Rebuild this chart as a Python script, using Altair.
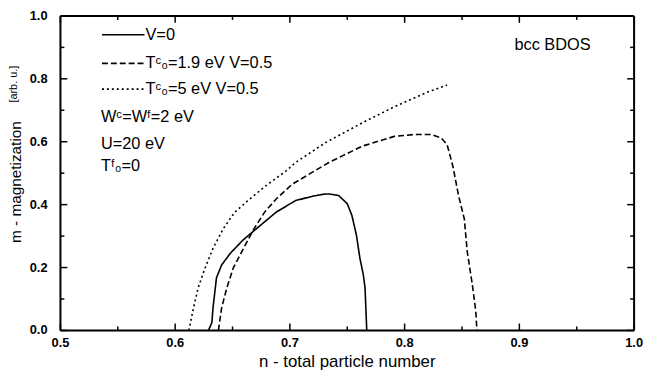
import altair as alt
import pandas as pd

# ---- data ----
n_v0 = [0.629, 0.632, 0.633, 0.635, 0.636, 0.6405, 0.648, 0.659, 0.671, 0.688, 0.705, 0.72, 0.731, 0.734,
        0.7425, 0.750, 0.754, 0.758, 0.761, 0.764, 0.7655, 0.767]
m_v0 = [0.0, 0.025, 0.072, 0.135, 0.167, 0.208, 0.245, 0.287, 0.324, 0.376, 0.413, 0.427, 0.434, 0.434,
        0.429, 0.403, 0.366, 0.303, 0.230, 0.177, 0.135, 0.0]

n_t19 = [0.6377, 0.6405, 0.645, 0.6506, 0.658, 0.668, 0.678, 0.688, 0.702, 0.734, 0.763, 0.791, 0.8086,
         0.823, 0.832, 0.837, 0.842, 0.847, 0.852, 0.8546, 0.859, 0.862, 0.863]
m_t19 = [0.0, 0.072, 0.135, 0.198, 0.25, 0.319, 0.376, 0.418, 0.465, 0.534, 0.586, 0.617, 0.623,
         0.623, 0.612, 0.591, 0.523, 0.429, 0.355, 0.25, 0.146, 0.062, 0.0]

n_t5 = [0.612, 0.616, 0.620, 0.626, 0.633, 0.642, 0.652, 0.665, 0.679, 0.6966, 0.705, 0.731, 0.763,
        0.791, 0.820, 0.837]
m_t5 = [0.0, 0.072, 0.135, 0.198, 0.261, 0.324, 0.376, 0.418, 0.46, 0.507, 0.534, 0.597, 0.66,
        0.711, 0.758, 0.780]

series_names = ["V=0", "Tᶜ₀=1.9 eV V=0.5", "Tᶜ₀=5 eV V=0.5"]
dashes = [[1, 0], [6, 3], [2, 3]]
notes = ["Wᶜ=Wᶠ=2 eV", "U=20 eV", "Tᶠ₀=0"]
corner_label = "bcc BDOS"
x_title = "n - total particle number"
y_title = "m - magnetization"
y_unit = "[arb. u.]"
x_major = [0.5, 0.6, 0.7, 0.8, 0.9, 1.0]
x_minor = [0.55, 0.65, 0.75, 0.85, 0.95]
y_major = [0.0, 0.2, 0.4, 0.6, 0.8, 1.0]
y_minor = [0.1, 0.3, 0.5, 0.7, 0.9]

rows = []
for name, ns, ms in zip(series_names, [n_v0, n_t19, n_t5], [m_v0, m_t19, m_t5]):
    for i, (a, b) in enumerate(zip(ns, ms)):
        rows.append({"series": name, "n": a, "m": b, "i": i})
df = pd.DataFrame(rows)

FONT = "Liberation Sans"
W, H = 580, 318
X0, X1, Y0, Y1 = 0.5, 1.0, 0.0, 1.0
xs = alt.Scale(domain=[X0, X1], nice=False, zero=False)
ys = alt.Scale(domain=[Y0, Y1], nice=False)
px_x = (X1 - X0) / W   # one pixel in data units along x
px_y = (Y1 - Y0) / H   # one pixel in data units along y

lines = alt.Chart(df).mark_line(color="black", strokeWidth=1.6).encode(
    x=alt.X("n:Q", scale=xs, axis=None),
    y=alt.Y("m:Q", scale=ys, axis=None),
    strokeDash=alt.StrokeDash("series:N", scale=alt.Scale(domain=series_names, range=dashes), legend=None),
    detail="series:N",
    order="i:Q",
)

one = pd.DataFrame({"k": [0]})
# plot frame (four edges)
frame = [
    alt.Chart(one).mark_rule(color="black", strokeWidth=2).encode(
        x=alt.value(0), x2=alt.value(W), y=alt.value(0)),
    alt.Chart(one).mark_rule(color="black", strokeWidth=2).encode(
        x=alt.value(0), x2=alt.value(W), y=alt.value(H)),
    alt.Chart(one).mark_rule(color="black", strokeWidth=2).encode(
        y=alt.value(0), y2=alt.value(H), x=alt.value(0)),
    alt.Chart(one).mark_rule(color="black", strokeWidth=2).encode(
        y=alt.value(0), y2=alt.value(H), x=alt.value(W)),
]

# inward tick marks on all four sides, as thin filled rectangles placed through the scales
tick_rows = []
for vals, L in [(x_major, 7), (x_minor, 4)]:
    for v in vals:
        tick_rows.append({"a": v - 0.75 * px_x, "b": v + 0.75 * px_x, "c": Y0, "d": Y0 + L * px_y})
        tick_rows.append({"a": v - 0.75 * px_x, "b": v + 0.75 * px_x, "c": Y1 - L * px_y, "d": Y1})
for vals, L in [(y_major, 7), (y_minor, 4)]:
    for v in vals:
        tick_rows.append({"a": X0, "b": X0 + L * px_x, "c": v - 0.75 * px_y, "d": v + 0.75 * px_y})
        tick_rows.append({"a": X1 - L * px_x, "b": X1, "c": v - 0.75 * px_y, "d": v + 0.75 * px_y})
ticks = alt.Chart(pd.DataFrame(tick_rows)).mark_rect(color="black", opacity=1).encode(
    x=alt.X("a:Q", scale=xs, axis=None), x2="b:Q",
    y=alt.Y("c:Q", scale=ys, axis=None), y2="d:Q",
)

# tick labels, placed through the scales
xlab = alt.Chart(pd.DataFrame({"n": x_major})).mark_text(
    align="center", baseline="top", font=FONT, fontSize=13, fontWeight="bold", color="black").encode(
    x=alt.X("n:Q", scale=xs, axis=None), y=alt.value(H + 7), text=alt.Text("n:Q", format=".1f"))
ylab = alt.Chart(pd.DataFrame({"m": y_major})).mark_text(
    align="right", baseline="middle", font=FONT, fontSize=13, fontWeight="bold", color="black").encode(
    y=alt.Y("m:Q", scale=ys, axis=None), x=alt.value(-13), text=alt.Text("m:Q", format=".1f"))

# legend (drawn manually)
leg_layers = []
leg_y = [19, 48, 74]
for name, d, yy in zip(series_names, dashes, leg_y):
    lab = pd.DataFrame({"label": [name]})
    leg_layers.append(alt.Chart(lab).mark_rule(color="black", strokeWidth=1.6, strokeDash=d).encode(
        x=alt.value(42), x2=alt.value(85), y=alt.value(yy)))
    leg_layers.append(alt.Chart(lab).mark_text(align="left", baseline="middle", font=FONT, fontSize=16.5,
                                               color="black").encode(
        text="label:N", x=alt.value(86), y=alt.value(yy)))
for note, yy in zip(notes, [102, 130, 152]):
    lab = pd.DataFrame({"label": [note]})
    leg_layers.append(alt.Chart(lab).mark_text(align="left", baseline="middle", font=FONT, fontSize=16.5,
                                               color="black").encode(
        text="label:N", x=alt.value(41), y=alt.value(yy)))

corner = alt.Chart(pd.DataFrame({"label": [corner_label]})).mark_text(
    align="right", baseline="middle", font=FONT, fontSize=16.5, color="black").encode(
    text="label:N", x=alt.value(536), y=alt.value(29))

xt = alt.Chart(pd.DataFrame({"label": [x_title]})).mark_text(
    align="center", baseline="middle", font=FONT, fontSize=17, color="black").encode(
    text="label:N", x=alt.value(W / 2), y=alt.value(350))
ytitle = alt.Chart(pd.DataFrame({"label": [y_title]})).mark_text(
    align="center", baseline="middle", font=FONT, fontSize=15.5, color="black", angle=270).encode(
    text="label:N", x=alt.value(-45), y=alt.value(168))
ysub = alt.Chart(pd.DataFrame({"label": [y_unit]})).mark_text(
    align="center", baseline="middle", font=FONT, fontSize=11, color="black", angle=270).encode(
    text="label:N", x=alt.value(-47), y=alt.value(69))

chart = alt.layer(lines, *frame, ticks, xlab, ylab, *leg_layers, corner, xt, ytitle, ysub).properties(
    width=W, height=H,
    autosize=alt.AutoSizeParams(type="none"),
    padding={"left": 53, "top": 6, "right": 9, "bottom": 40},
).configure_view(stroke=None).configure(background="white")

chart.save("out.html", embed_options={"renderer": "svg", "actions": False})
